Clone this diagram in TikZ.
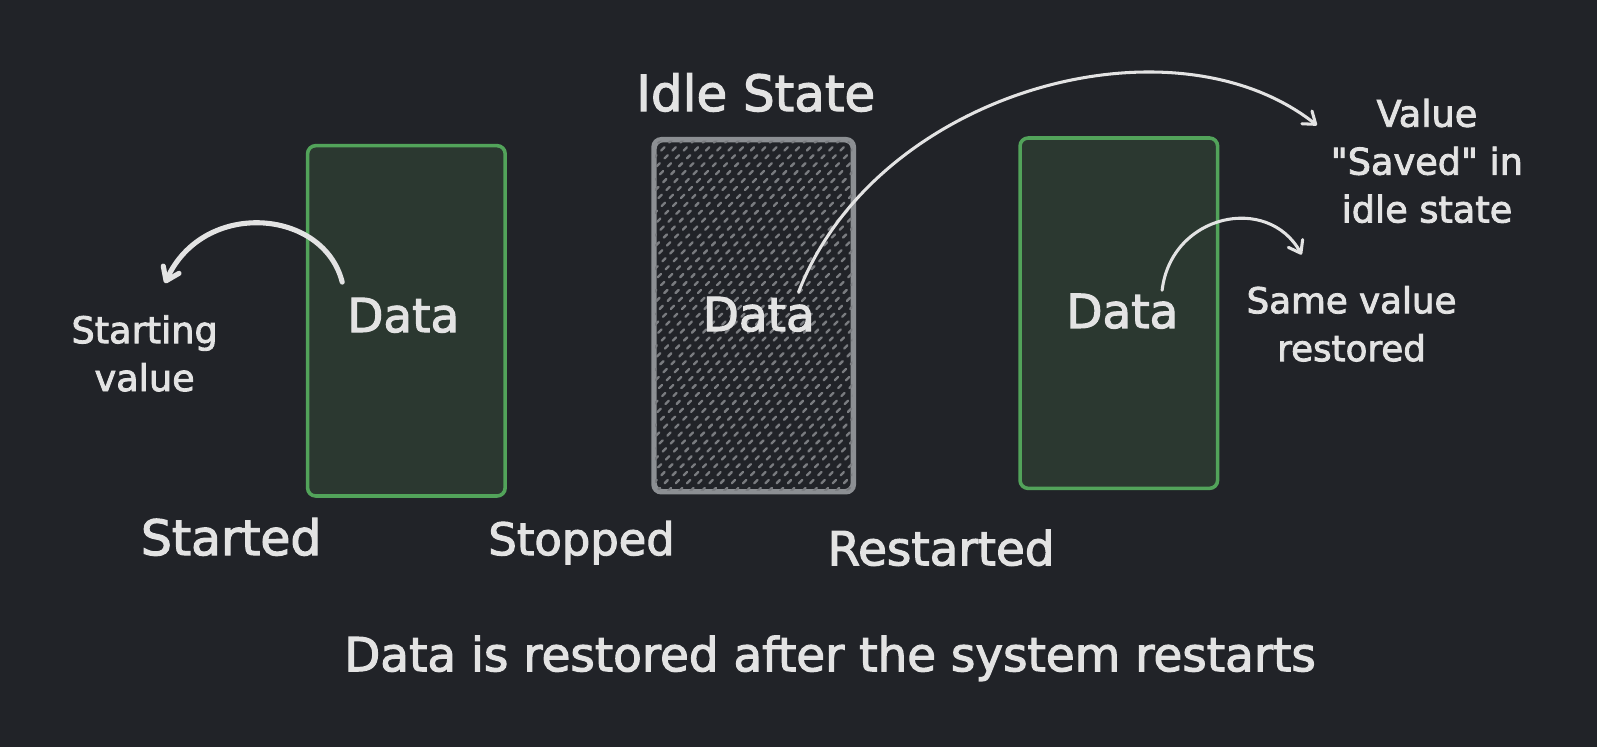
\documentclass[tikz,border=0pt]{standalone}
\usepackage{fontspec}
\setmainfont[FakeBold=2.4,AutoFakeBold=2.4,Ligatures=TeXOff]{DejaVu Sans}
\usetikzlibrary{arrows.meta}
\definecolor{bg}{HTML}{212328}
\definecolor{gfill}{HTML}{2B3830}
\definecolor{gline}{HTML}{52A35A}
\definecolor{gray}{HTML}{8C8F93}
\definecolor{hatchc}{HTML}{7A7C80}
\definecolor{txt}{HTML}{E3E3E3}
\begin{document}
\begin{tikzpicture}[x=1pt,y=-1pt,
  gbox/.style={draw=gline, fill=gfill, line width=3.5pt, rounded corners=8pt, minimum width=194pt, minimum height=344pt, inner sep=0pt},
  sbox/.style={draw=gray, line width=3.5pt, rounded corners=8pt, minimum width=194pt, minimum height=344pt, inner sep=0pt},
  big/.style={text=txt, inner sep=0pt, anchor=base, font=\bfseries\fontsize{46}{56}\selectfont},
  small/.style={text=txt, inner sep=0pt, align=center, font=\bfseries\fontsize{36}{47}\selectfont},
  arr/.style={draw=txt, line width=3pt, line cap=round, -{Straight Barb[length=11pt,width=16pt,round]}},
  arrthick/.style={draw=txt, line width=5pt, line cap=round, -{Straight Barb[length=12pt,width=17pt,round]}},
  hatch/.style={draw=hatchc, line width=2.3pt, line cap=round, dash pattern=on 4.5pt off 6.5pt}
]
\fill[bg] (0,0) rectangle (1568,733);
\useasboundingbox (0,0) rectangle (1568,733);

% boxes
\node[gbox] (b1) at (399,315) {};
\node[sbox] (b2) at (740,310) {};
\node[gbox] (b3) at (1098.5,307.5) {};
\begin{scope}
  \clip[rounded corners=8pt] (b2.south west) rectangle (b2.north east);
  \foreach \i in {0,...,52} { \draw[hatch] ({285+\i*11},490) -- ++(360,-360); }
\end{scope}
\draw[gray, line width=3.5pt, rounded corners=8pt] (b2.south west) rectangle (b2.north east);

% labels
\node[big, font=\bfseries\fontsize{49}{58}\selectfont] (idle) at (742,109) {Idle State};
\node[big] (d1) at (396,326) {Data};
\node[big] (d2) at (745,325) {Data};
\node[big] (d3) at (1102,322) {Data};
\node[big, font=\bfseries\fontsize{48}{58}\selectfont] (started) at (227,545) {Started};
\node[big, font=\bfseries\fontsize{44}{58}\selectfont] (stopped) at (571,545) {Stopped};
\node[big] (restarted) at (924,555) {Restarted};
\node[small] (startval) at (142,347) {Starting\\value};
\node[small] (saved) at (1401,158) {Value\\"Saved" in\\idle state};
\node[small, font=\bfseries\fontsize{35}{47}\selectfont] (same) at (1327,318) {Same value\\restored};
\node[big, font=\bfseries\fontsize{46}{54}\selectfont] (caption) at (815,659) {Data is restored after the system restarts};

% arrow endpoints
\coordinate (a1s) at (336,277);
\coordinate (a1e) at (162,278);
\coordinate (a2s) at (784,287);
\coordinate (a2e) at (1293,123);
\coordinate (a3s) at (1141,285);
\coordinate (a3e) at (1278,250);

\draw[arrthick] (a1s) .. controls (318,205) and (200,195) .. (a1e);
\draw[arr] (a2s) .. controls (860,90) and (1150,10) .. (a2e);
\draw[arr] (a3s) .. controls (1150,210) and (1245,190) .. (a3e);
\end{tikzpicture}
\end{document}
